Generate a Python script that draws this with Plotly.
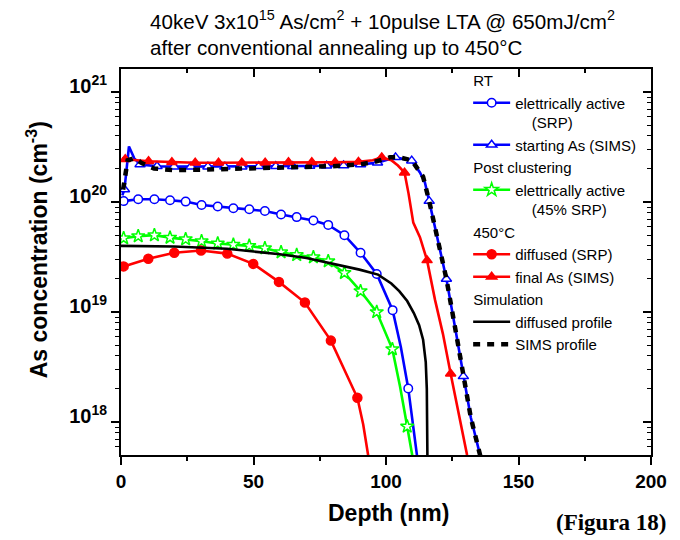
import plotly.graph_objects as go

# ---------------- data (depth in nm, concentration in cm^-3) ----------------
# RT - electrically active (SRP), open blue circles
rt_srp_depth = [0.3, 1.0, 6.5, 12.6, 18.5, 24.4, 30.4, 36.5, 42.4, 48.4, 54.3, 60.4, 66.3,
                72.6, 78.2, 84.3, 90.4, 96.5, 102.5, 105.6, 108.4, 110.5, 112.2]
rt_srp_conc = [1.0e20, 1.02e20, 1.06e20, 1.06e20, 1.04e20, 1.01e20, 9.4e19, 9.1e19, 8.8e19,
               8.6e19, 8.3e19, 7.7e19, 7.3e19, 6.8e19, 6.2e19, 5.0e19, 3.46e19, 2.22e19,
               1.04e19, 4.8e18, 2.02e18, 8.0e17, 4.0e17]
rt_srp_mk_depth = [1.0, 6.5, 12.6, 18.5, 24.4, 30.4, 36.5, 42.4, 48.4, 54.3, 60.4, 66.3,
                   72.6, 78.2, 84.3, 90.4, 96.5, 102.5, 108.4]
rt_srp_mk_conc = [1.02e20, 1.06e20, 1.06e20, 1.04e20, 1.01e20, 9.4e19, 9.1e19, 8.8e19, 8.6e19,
                  8.3e19, 7.7e19, 7.3e19, 6.8e19, 6.2e19, 5.0e19, 3.46e19, 2.22e19, 1.04e19,
                  2.02e18]

# RT - starting As (SIMS), open blue triangles
rt_sims_depth = [0.5, 1.3, 3.0, 5.0, 7.2, 13.6, 20.0, 26.4, 32.8, 39.2, 45.6, 52.0, 58.4,
                 64.8, 71.2, 77.6, 84.0, 90.4, 96.8, 103.6, 109.7, 112.8, 114.7, 116.3,
                 119.5, 122.8, 126.5, 129.2, 132.0, 135.5, 136.5]
rt_sims_conc = [1.15e20, 1.3e20, 3.2e20, 2.5e20, 2.2e20, 2.12e20, 2.1e20, 2.1e20, 2.1e20,
                2.1e20, 2.1e20, 2.12e20, 2.12e20, 2.12e20, 2.13e20, 2.14e20, 2.15e20, 2.2e20,
                2.28e20, 2.55e20, 2.38e20, 1.86e20, 1.5e20, 1.02e20, 4.6e19, 2.0e19, 6.3e18,
                2.6e18, 1.1e18, 5.0e17, 4.0e17]
rt_sims_mk_depth = [1.3, 7.2, 13.6, 20.0, 26.4, 32.8, 39.2, 45.6, 52.0, 58.4, 64.8, 71.2,
                    77.6, 84.0, 90.4, 96.8, 103.6, 109.7, 116.3, 122.8, 129.2]
rt_sims_mk_conc = [1.3e20, 2.2e20, 2.12e20, 2.1e20, 2.1e20, 2.1e20, 2.1e20, 2.1e20, 2.12e20,
                   2.12e20, 2.12e20, 2.13e20, 2.14e20, 2.15e20, 2.2e20, 2.28e20, 2.55e20,
                   2.38e20, 1.02e20, 2.0e19, 2.6e18]

# Post clustering - electrically active (45% SRP), open green stars
pc_depth = [0.3, 1.0, 6.5, 12.6, 18.5, 24.4, 30.4, 36.5, 42.4, 48.4, 54.3, 60.4, 66.3, 72.6,
            78.2, 84.3, 90.4, 96.5, 102.4, 105.3, 108.0, 110.6]
pc_conc = [4.5e19, 4.7e19, 4.9e19, 5.0e19, 4.75e19, 4.6e19, 4.4e19, 4.2e19, 4.1e19, 4.0e19,
           3.8e19, 3.5e19, 3.3e19, 3.15e19, 2.9e19, 2.27e19, 1.55e19, 1.0e19, 4.6e18,
           2.1e18, 9.1e17, 4.0e17]
pc_mk_depth = [1.0, 6.5, 12.6, 18.5, 24.4, 30.4, 36.5, 42.4, 48.4, 54.3, 60.4, 66.3, 72.6,
               78.2, 84.3, 90.4, 96.5, 102.4, 108.0]
pc_mk_conc = [4.7e19, 4.9e19, 5.0e19, 4.75e19, 4.6e19, 4.4e19, 4.2e19, 4.1e19, 4.0e19,
              3.8e19, 3.5e19, 3.3e19, 3.15e19, 2.9e19, 2.27e19, 1.55e19, 1.0e19, 4.6e18,
              9.1e17]

# 450 C - diffused (SRP), filled red circles
ht_srp_depth = [0.3, 1.0, 10.3, 20.1, 30.2, 40.1, 49.9, 59.6, 69.4, 79.2, 89.2, 91.4, 93.9]
ht_srp_conc = [2.55e19, 2.6e19, 3.05e19, 3.46e19, 3.63e19, 3.4e19, 2.74e19, 1.88e19,
               1.22e19, 5.5e18, 1.66e18, 9.5e17, 4.0e17]
ht_srp_mk_depth = [1.0, 10.3, 20.1, 30.2, 40.1, 49.9, 59.6, 69.4, 79.2, 89.2]
ht_srp_mk_conc = [2.6e19, 3.05e19, 3.46e19, 3.63e19, 3.4e19, 2.74e19, 1.88e19, 1.22e19,
                  5.5e18, 1.66e18]

# 450 C - final As (SIMS), filled red triangles
ht_sims_depth = [0.3, 1.6, 10.4, 19.2, 28.0, 36.8, 45.6, 54.4, 63.2, 72.0, 80.8, 89.6, 95.0,
                 98.4, 102.0, 104.5, 107.0, 108.5, 110.3, 112.8, 115.5, 118.5, 121.5, 124.4,
                 126.7, 129.2, 130.6, 131.5]
ht_sims_conc = [2.5e20, 2.45e20, 2.35e20, 2.3e20, 2.28e20, 2.28e20, 2.28e20, 2.28e20, 2.3e20,
                2.3e20, 2.3e20, 2.32e20, 2.4e20, 2.55e20, 2.4e20, 2.15e20, 1.85e20, 1.2e20,
                6.5e19, 4.8e19, 2.95e19, 1.29e19, 6.3e18, 2.75e18, 1.45e18, 7.1e17, 5.0e17,
                4.5e17]
ht_sims_mk_depth = [1.6, 10.4, 19.2, 28.0, 36.8, 45.6, 54.4, 63.2, 72.0, 80.8, 89.6, 98.4,
                    107.0, 115.5, 124.4]
ht_sims_mk_conc = [2.45e20, 2.35e20, 2.3e20, 2.28e20, 2.28e20, 2.28e20, 2.28e20, 2.3e20,
                   2.3e20, 2.3e20, 2.32e20, 2.55e20, 1.85e20, 2.95e19, 2.75e18]

# Simulation - diffused profile (black solid)
sim_diff_depth = [0, 20, 40, 60, 70, 80, 90, 97, 102, 105, 108, 110.5, 112.5, 114, 115,
                  115.4, 115.6, 115.7]
sim_diff_conc = [4.0e19, 3.94e19, 3.76e19, 3.35e19, 3.1e19, 2.75e19, 2.43e19, 2.19e19,
                 1.82e19, 1.55e19, 1.26e19, 9.8e18, 7.6e18, 5.6e18, 3.5e18, 2.0e18, 8.0e17,
                 3.0e17]

# Simulation - SIMS profile (black dashed)
sim_sims_depth = [0.8, 1.5, 2.5, 5.0, 8.0, 12.5, 20, 30, 40, 50, 60, 70, 80, 90, 95, 101.5,
                  105, 109.7, 112.5, 114.0, 116.3, 119.5, 122.8, 126.5, 129.2, 132, 135.5,
                  136.5]
sim_sims_conc = [1.3e20, 1.6e20, 2.4e20, 2.5e20, 2.25e20, 2.02e20, 1.95e20, 1.97e20, 2.0e20,
                 2.02e20, 2.06e20, 2.08e20, 2.12e20, 2.2e20, 2.3e20, 2.55e20, 2.55e20, 2.4e20,
                 1.95e20, 1.7e20, 1.02e20, 4.6e19, 2.0e19, 6.3e18, 2.6e18, 1.1e18, 5.0e17,
                 4.0e17]

x_range = [0, 200]
x_major = 50
x_minor = 25
y_log_range = [17.7, 21.21]
y_major_vals = [1e18, 1e19, 1e20, 1e21]
y_major_text = ["10<sup>18</sup>", "10<sup>19</sup>", "10<sup>20</sup>", "10<sup>21</sup>"]
y_minor_vals = [float(m) * 10.0 ** e for e in range(17, 21) for m in range(2, 10)]

title_text = ("40keV 3x10<sup>15</sup> As/cm<sup>2</sup> + 10pulse LTA @ 650mJ/cm<sup>2</sup>"
              "<br>after conventional annealing up to 450°C")

# ---------------- figure ----------------
BLUE, RED, GREEN, BLACK = "#0000FF", "#FF0000", "#00FF00", "#000000"
FONT = "Liberation Sans"
LW = 2.6

fig = go.Figure()


def add_series(xl, yl, xm, ym, color, symbol, fill, msize, name, group, gtitle):
    fig.add_trace(go.Scatter(x=xl, y=yl, mode="lines", line=dict(color=color, width=LW),
                             showlegend=False, hoverinfo="skip"))
    fig.add_trace(go.Scatter(x=xm, y=ym, mode="markers",
                             marker=dict(symbol=symbol, size=msize, color=fill,
                                         line=dict(color=color, width=1.5)),
                             showlegend=False, hoverinfo="skip"))
    fig.add_trace(go.Scatter(x=[None], y=[None], mode="lines+markers", name=name,
                             line=dict(color=color, width=LW),
                             marker=dict(symbol=symbol, size=msize, color=fill,
                                         line=dict(color=color, width=1.5)),
                             legendgroup=group, legendgrouptitle=dict(text=gtitle)))


NB = "\u00a0"
add_series(rt_srp_depth, rt_srp_conc, rt_srp_mk_depth, rt_srp_mk_conc, BLUE, "circle",
           "white", 8.5, "elettrically active<br>" + NB * 4 + "(SRP)", "rt", "RT")
add_series(rt_sims_depth, rt_sims_conc, rt_sims_mk_depth, rt_sims_mk_conc, BLUE,
           "triangle-up", "white", 9, "starting As (SIMS)", "rt", "RT")
add_series(pc_depth, pc_conc, pc_mk_depth, pc_mk_conc, GREEN, "star", "white", 10,
           "elettrically active<br>" + NB * 4 + "(45% SRP)", "pc", "Post clustering")
add_series(ht_srp_depth, ht_srp_conc, ht_srp_mk_depth, ht_srp_mk_conc, RED, "circle", RED,
           9, "diffused (SRP)", "ht", "450°C")
add_series(ht_sims_depth, ht_sims_conc, ht_sims_mk_depth, ht_sims_mk_conc, RED,
           "triangle-up", RED, 9, "final As (SIMS)", "ht", "450°C")

fig.add_trace(go.Scatter(x=sim_diff_depth, y=sim_diff_conc, mode="lines",
                         line=dict(color=BLACK, width=LW), name="diffused profile",
                         legendgroup="sim", legendgrouptitle=dict(text="Simulation"),
                         hoverinfo="skip"))
fig.add_trace(go.Scatter(x=sim_sims_depth, y=sim_sims_conc, mode="lines",
                         line=dict(color=BLACK, width=4.5, dash="7px,7px"),
                         name="SIMS profile", legendgroup="sim",
                         legendgrouptitle=dict(text="Simulation"), hoverinfo="skip"))

# invisible trace for the mirrored (inward-tick) axes
fig.add_trace(go.Scatter(x=[None], y=[None], xaxis="x2", yaxis="y2", showlegend=False,
                         hoverinfo="skip"))

axis_common = dict(showgrid=False, zeroline=False, color=BLACK)
fig.update_layout(
    width=680, height=540,
    margin=dict(l=121, r=29, t=69, b=85),
    paper_bgcolor="white", plot_bgcolor="white",
    font=dict(family=FONT, color=BLACK),
    showlegend=True,
    legend=dict(x=0.655, y=1.013, xanchor="left", yanchor="top",
                bgcolor="rgba(0,0,0,0)", borderwidth=0, tracegroupgap=0,
                itemwidth=37, maxheight=520,
                font=dict(family=FONT, size=15, color=BLACK), valign="top",
                grouptitlefont=dict(family=FONT, size=15, color=BLACK)),
    xaxis=dict(range=x_range, dtick=x_major, tick0=0, showline=True, linewidth=2,
               linecolor=BLACK, mirror=True, ticks="outside", ticklen=8, tickwidth=2,
               minor=dict(dtick=x_minor, tick0=0, ticks="outside", ticklen=4, tickwidth=1.5),
               tickfont=dict(family=FONT, size=19, weight="bold"), **axis_common),
    yaxis=dict(type="log", range=y_log_range, tickmode="array", tickvals=y_major_vals,
               ticktext=y_major_text, showline=True, linewidth=2, linecolor=BLACK,
               mirror=True, ticks="outside", ticklen=8, tickwidth=2, ticklabelshift=-6,
               minor=dict(tickmode="array", tickvals=y_minor_vals, ticks="outside",
                          ticklen=4, tickwidth=1.2),
               tickfont=dict(family=FONT, size=20, weight="bold"), **axis_common),
    xaxis2=dict(range=x_range, dtick=x_major, tick0=0, overlaying="x", side="top",
                anchor="y", showline=False, ticks="inside", ticklen=8, tickwidth=2,
                minor=dict(dtick=x_minor, tick0=0, ticks="inside", ticklen=4, tickwidth=1.5),
                showticklabels=False, **axis_common),
    yaxis2=dict(type="log", range=y_log_range, tickmode="array", tickvals=y_major_vals,
                overlaying="y", side="right", anchor="x", showline=False, ticks="inside",
                ticklen=8, tickwidth=2,
                minor=dict(tickmode="array", tickvals=y_minor_vals, ticks="inside",
                           ticklen=4, tickwidth=1.2),
                showticklabels=False, **axis_common),
)

fig.add_annotation(text=title_text, xref="paper", yref="paper", x=0.051, y=1.02,
                   xanchor="left", yanchor="bottom", align="left", showarrow=False,
                   font=dict(family=FONT, size=20.6, color=BLACK))
fig.add_annotation(text="Depth (nm)", xref="paper", yref="paper", x=0.505, y=-0.15,
                   xanchor="center", yanchor="middle", showarrow=False,
                   font=dict(family=FONT, size=23, weight="bold", color=BLACK))
fig.add_annotation(text="As concentration (cm<sup>-3</sup>)", xref="paper", yref="paper",
                   x=-0.158, y=0.531, xanchor="center", yanchor="middle", textangle=-90,
                   showarrow=False,
                   font=dict(family=FONT, size=23, weight="bold", color=BLACK))
fig.add_annotation(text="(Figura 18)", xref="paper", yref="paper", x=0.925, y=-0.174,
                   xanchor="center", yanchor="middle", showarrow=False,
                   font=dict(family="Liberation Serif", size=23, weight="bold", color=BLACK))

fig.write_html("out.html")
